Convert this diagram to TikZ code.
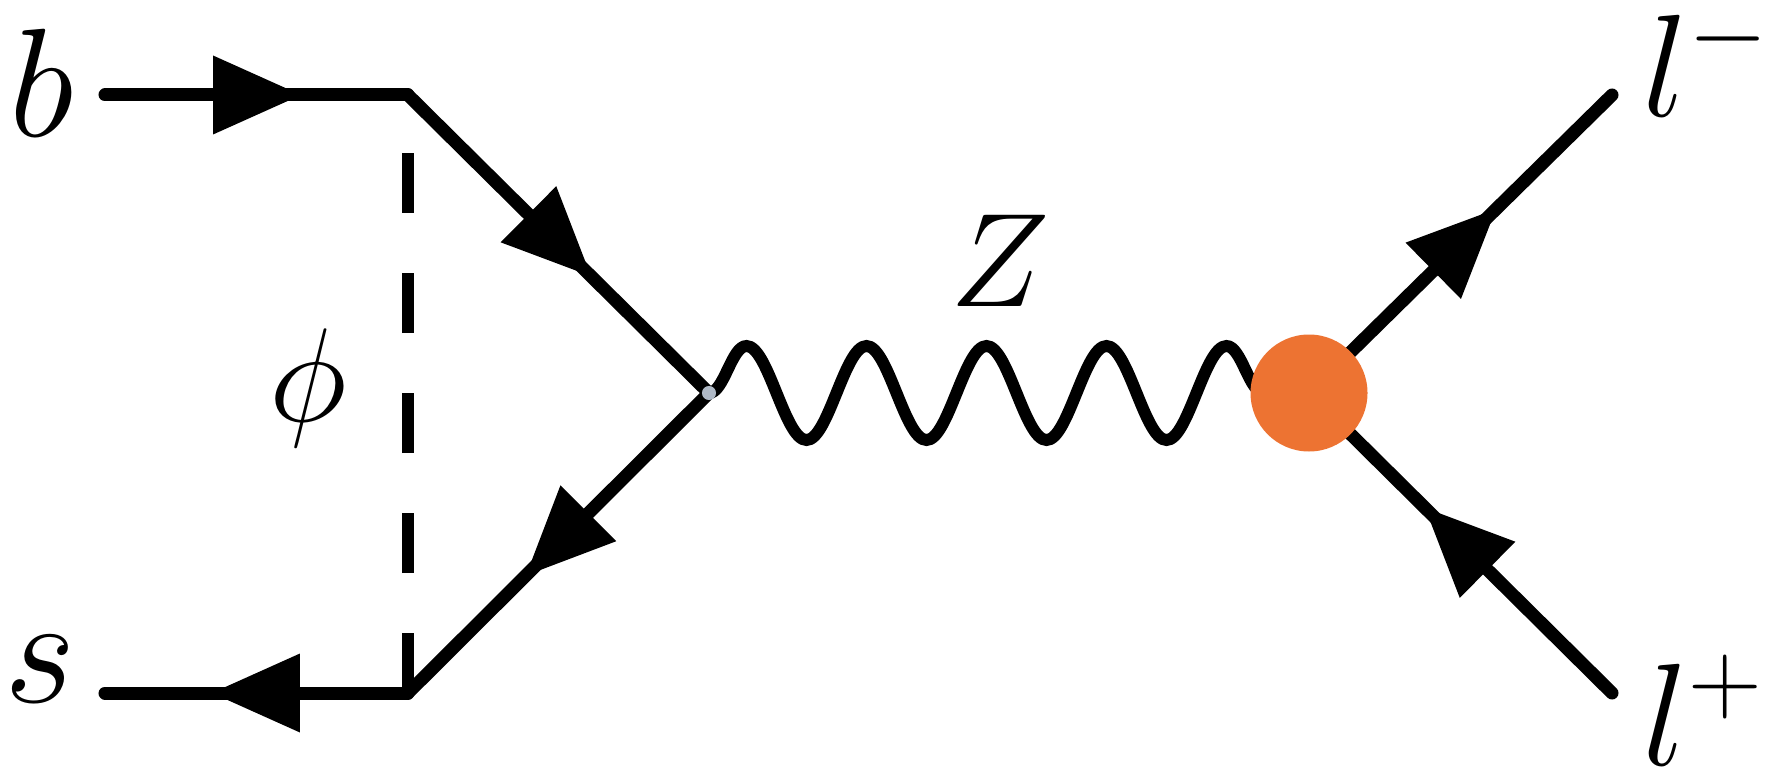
\RequirePackage{fix-cm}
\documentclass[tikz,border=0pt]{standalone}
\usepackage{amsmath,amssymb}
\usepackage{xcolor}
\usetikzlibrary{arrows.meta,decorations.markings,decorations.pathmorphing}
\definecolor{blobOrange}{RGB}{237,115,50}
\definecolor{vtxGray}{RGB}{175,185,198}
\tikzset{
dot/.style = {circle, fill, minimum size=#1,
              inner sep=0pt, outer sep=0pt},
dot/.default = 4pt % size of the vertex dot
}
\tikzset{
fermion/.style = {line width=3.7pt, line cap=round, postaction={decorate},
    decoration={markings, mark=at position #1 with
    {\arrow{Triangle[length=8.8mm, width=7.9mm, line width=0pt]}}}},
fermion/.default = 0.647 % where the arrow tip sits
}
\tikzset{
scalar/.style = {line width=3.4pt, dash pattern=on 6mm off 6mm}
}
\tikzset{
boson/.style = {line width=3.4pt, decorate,
    decoration={snake, amplitude=4.7mm, segment length=12mm}}
}
\tikzset{
blob/.style = {circle, fill=blobOrange, minimum size=1.17cm, inner sep=0pt}
}
\tikzset{
lbl/.style = {font=\fontsize{#1}{#1}\selectfont, inner sep=0pt, anchor=base},
lbl/.default = 44pt
}

\begin{document}
\begin{tikzpicture}
    \useasboundingbox (0,0) rectangle (17.9,7.76);

    \coordinate (bStart) at (1.05,6.81);
    \coordinate (topVtx) at (4.08,6.81);
    \coordinate (midVtx) at (7.09,3.83);
    \coordinate (botVtx) at (4.08,0.83);
    \coordinate (sEnd) at (1.05,0.83);
    \coordinate (zVtx) at (13.09,3.83);
    \coordinate (lmEnd) at (16.12,6.81);
    \coordinate (lpEnd) at (16.12,0.83);

    \node[lbl] (bLabel) at (0.42,6.39) {$b$};
    \node[lbl] (sLabel) at (0.40,0.74) {$s$};
    \node[lbl=38pt] (phiLabel) at (3.08,3.55) {$\phi$};
    \node[lbl=38pt] (zLabel) at (10.00,4.69) {$Z$};
    \node[lbl=41.5pt, anchor=base west] (lmLabel) at (16.42,6.59) {$l^-$};
    \node[lbl=41.5pt, anchor=base west] (lpLabel) at (16.42,0.11) {$l^+$};

    \draw[scalar] (botVtx) -- (topVtx);
    \draw[boson] (midVtx) -- (zVtx);

    \draw[fermion] (bStart) -- (topVtx);
    \draw[fermion=0.61] (topVtx) -- (midVtx);
    \draw[fermion=0.61] (midVtx) -- (botVtx);
    \draw[fermion] (botVtx) -- (sEnd);
    \draw[fermion=0.62] (zVtx) -- (lmEnd);
    \draw[fermion=0.62] (lpEnd) -- (zVtx);

    \node[blob] (zBlob) at (zVtx) {};
    \node[dot, fill=vtxGray] (midDot) at (midVtx) {};
  \end{tikzpicture}
\end{document}
